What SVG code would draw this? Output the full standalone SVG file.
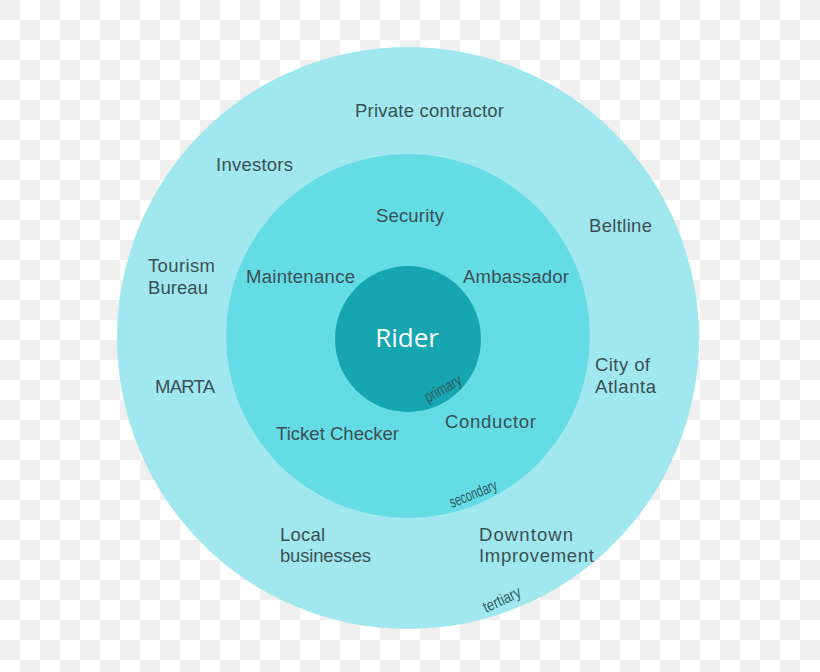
<svg xmlns="http://www.w3.org/2000/svg" width="820" height="672" viewBox="0 0 820 672">
<defs>
<pattern id="checker" width="40" height="40" patternUnits="userSpaceOnUse">
<rect width="40" height="40" fill="#ffffff"/>
<rect x="0" y="0" width="20" height="20" fill="#efefef"/>
<rect x="20" y="20" width="20" height="20" fill="#efefef"/>
</pattern>
<style>
.lbl{font-family:"Liberation Sans","Open Sans",sans-serif;font-size:18.5px;fill:#3b4f55}
.tag{font-family:"Liberation Sans","Open Sans",sans-serif;font-size:16px;fill:#2f5a60}
.rider{font-family:"Open Sans","Noto Sans",sans-serif;font-size:26px;fill:#ffffff}
</style>
</defs>
<rect width="820" height="672" fill="url(#checker)"/>
<g id="tertiary">
<circle cx="408" cy="338" r="291" fill="#a0e8ee"/>
<text class="lbl" x="355" y="117" textLength="149">Private contractor</text>
<text class="lbl" x="216" y="171" textLength="77">Investors</text>
<text class="lbl" x="589" y="232" textLength="63">Beltline</text>
<text class="lbl" x="148" y="272" textLength="67">Tourism</text>
<text class="lbl" x="148" y="294" textLength="60">Bureau</text>
<text class="lbl" x="595" y="371" textLength="55">City of</text>
<text class="lbl" x="595" y="393" textLength="61">Atlanta</text>
<text class="lbl" x="155" y="393" textLength="60">MARTA</text>
<text class="lbl" x="280" y="541" textLength="45">Local</text>
<text class="lbl" x="280" y="562" textLength="91">businesses</text>
<text class="lbl" x="479" y="541" textLength="94">Downtown</text>
<text class="lbl" x="479" y="562" textLength="115">Improvement</text>
<text class="tag" transform="translate(486,613) rotate(-25)" textLength="40" lengthAdjust="spacingAndGlyphs">tertiary</text>
</g>
<g id="secondary">
<circle cx="408" cy="336" r="182" fill="#64dce5"/>
<text class="lbl" x="376" y="222" textLength="68">Security</text>
<text class="lbl" x="246" y="283" textLength="109">Maintenance</text>
<text class="lbl" x="463" y="283" textLength="106">Ambassador</text>
<text class="lbl" x="445" y="428" textLength="91">Conductor</text>
<text class="lbl" x="276" y="440" textLength="123">Ticket Checker</text>
<text class="tag" transform="translate(452,508) rotate(-22)" textLength="50" lengthAdjust="spacingAndGlyphs">secondary</text>
</g>
<g id="primary">
<circle cx="408" cy="339" r="73" fill="#16a6b1"/>
<text class="rider" x="407" y="347" text-anchor="middle">Rider</text>
<text class="tag" transform="translate(428,403) rotate(-29)" textLength="40" lengthAdjust="spacingAndGlyphs">primary</text>
</g>
<g id="connectors"></g>
</svg>
